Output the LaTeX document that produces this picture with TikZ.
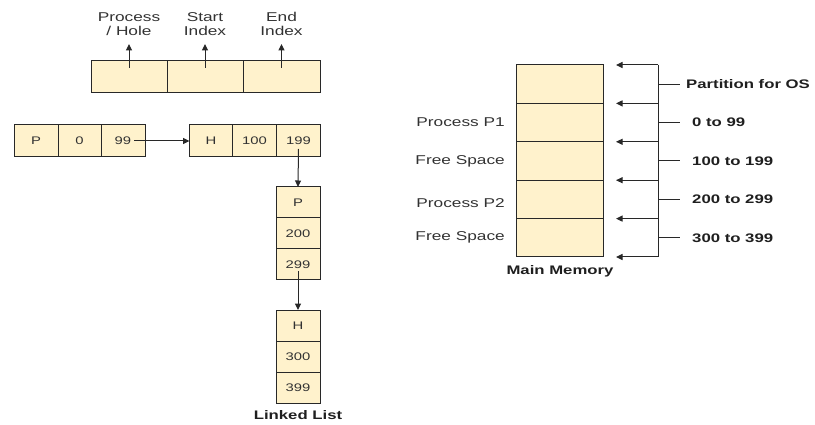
\documentclass[tikz,border=0pt]{standalone}
\usepackage{fontspec}
\setmainfont{Liberation Sans}[FakeStretch=1.35]
\usetikzlibrary{arrows.meta,positioning}
\definecolor{memFill}{RGB}{255,242,204}
\definecolor{memLine}{RGB}{40,40,40}
\definecolor{memText}{RGB}{50,50,50}

\begin{document}
\begin{tikzpicture}[x=1pt, y=-1pt,
  % ── list and memory cells ──
  cell/.style={draw=memLine, fill=memFill, rectangle, line width=1pt,
               minimum height=32pt, inner sep=0pt, outer sep=0pt,
               font=\fontsize{11}{12}\selectfont, text=memText},
  memcell/.style={cell, minimum width=87pt, minimum height=38.4pt},
  % ── texts ──
  lbl/.style={font=\fontsize{12.8}{13.8}\selectfont, text=memText,
              inner sep=0pt, align=center},
  blbl/.style={font=\fontsize{12.4}{13.8}\selectfont\bfseries, text=black!88,
               inner sep=0pt},
  % ── arrows ──
  arr/.style={-{Triangle[length=6.5pt,width=6pt]}, line width=1pt, memLine},
  wire/.style={line width=1pt, memLine},
]
\useasboundingbox (0,0) rectangle (815,425);

%% ─── 1. Node layout header ─────────────────────────────────────
\node[cell, minimum width=76pt] (hdPH) at (129,77) {};
\node[cell, minimum width=76pt, right=0pt of hdPH] (hdSI) {};
\node[cell, minimum width=77pt, right=0pt of hdSI] (hdEI) {};

\node[lbl] (phLbl) at ([yshift=53pt]hdPH.center) {Process\\/ Hole};
\node[lbl] (siLbl) at ([yshift=53pt]hdSI.center) {Start\\Index};
\node[lbl] (eiLbl) at ([yshift=53pt]hdEI.center) {End\\Index};

\foreach \hd/\hl in {hdPH/phLbl, hdSI/siLbl, hdEI/eiLbl}{
  \draw[arr] ([yshift=9pt]\hd.center) -- ([yshift=-20pt]\hl.center);
}

%% ─── 2. Linked list ────────────────────────────────────────────
% first row: P 0 99 -> H 100 199
\node[cell, minimum width=44pt] (lP) at (36,141) {P};
\node[cell, minimum width=43pt, right=0pt of lP] (l0) {0};
\node[cell, minimum width=44pt, right=0pt of l0] (l99) {99};

\node[cell, minimum width=43pt] (hH) at (211,141) {H};
\node[cell, minimum width=44pt, right=0pt of hH] (h100) {100};
\node[cell, minimum width=44pt, right=0pt of h100] (h199) {199};

\draw[arr] ([xshift=11pt]l99.center) -- (hH.west);

% vertical nodes: P 200 299 and H 300 399
\node[cell, minimum width=44pt, minimum height=31pt] (vP) at (298,202.5) {P};
\node[cell, minimum width=44pt, minimum height=31pt, below=0pt of vP] (v200) {200};
\node[cell, minimum width=44pt, minimum height=31pt, below=0pt of v200] (v299) {299};

\node[cell, minimum width=44pt, minimum height=31pt] (wH) at (298,325.5) {H};
\node[cell, minimum width=44pt, minimum height=31pt, below=0pt of wH] (w300) {300};
\node[cell, minimum width=44pt, minimum height=31pt, below=0pt of w300] (w399) {399};

\draw[arr] ([yshift=-8pt]h199.center) -- (vP.north);
\draw[arr] ([yshift=-7pt]v299.center) -- (wH.north);

\node[blbl] (llLbl) at (298,415) {Linked List};

%% ─── 3. Main memory ────────────────────────────────────────────
\node[memcell] (m0) at (559.5,84.2) {};
\foreach \i [remember=\i as \j (initially 0)] in {1,...,4}{
  \node[memcell, below=0pt of m\j] (m\i) {};
}

\node[lbl, anchor=east] (p1Lbl) at ([xshift=-11pt]m1.west) {Process P1};
\node[lbl, anchor=east] (f1Lbl) at ([xshift=-11pt]m2.west) {Free Space};
\node[lbl, anchor=east] (p2Lbl) at ([xshift=-11pt,yshift=-4pt]m3.west) {Process P2};
\node[lbl, anchor=east] (f2Lbl) at ([xshift=-11pt]m4.west) {Free Space};

\node[blbl] (mmLbl) at (560,271) {Main Memory};

%% ─── 4. Partition bus and ranges ───────────────────────────────
\foreach \i in {0,...,4}{
  \coordinate (bus\i) at ([xshift=55pt]m\i.north east);
  \coordinate (tip\i) at ([xshift=13pt]m\i.north east);
  \coordinate (bm\i)  at ([xshift=55pt]m\i.east);
  \coordinate (tk\i)  at ([xshift=77pt]m\i.east);
}
\coordinate (bus5) at ([xshift=55pt]m4.south east);
\coordinate (tip5) at ([xshift=13pt]m4.south east);

\draw[wire] (bus0) -- (bus5);
\foreach \i in {0,...,5}{
  \draw[arr] (bus\i) -- (tip\i);
}

\node[blbl, anchor=west, right=6pt of tk0]  (rng0) {Partition for OS};
\node[blbl, anchor=west, right=12pt of tk1] (rng1) {0 to 99};
\node[blbl, anchor=west, right=12pt of tk2] (rng2) {100 to 199};
\node[blbl, anchor=west, right=12pt of tk3] (rng3) {200 to 299};
\node[blbl, anchor=west, right=12pt of tk4] (rng4) {300 to 399};

\foreach \i in {0,...,4}{
  \draw[wire] (bm\i) -- (tk\i);
}

\end{tikzpicture}
\end{document}
